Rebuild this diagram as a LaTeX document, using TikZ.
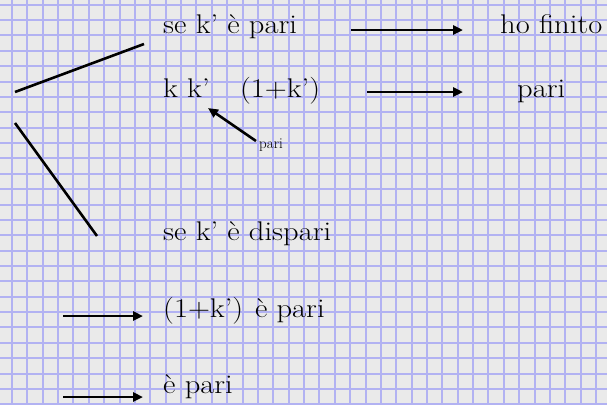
\documentclass[tikz,border=0pt]{standalone}
\usepackage{graphicx}
\usetikzlibrary{arrows.meta}
\definecolor{paper}{RGB}{234,234,234}
\definecolor{gridblue}{RGB}{178,178,242}
\newcommand{\widetext}[1]{\scalebox{1.13}[1]{#1}}
\begin{document}
\begin{tikzpicture}[x=1pt,y=-1pt,
  txt/.style={anchor=base west,inner sep=0pt,font=\fontsize{27}{31}\selectfont},
  smalltxt/.style={anchor=base west,inner sep=0pt,font=\fontsize{15}{17}\selectfont},
  stroke/.style={line width=2.6pt,black},
  arr/.style={stroke,-{Triangle[length=10pt,width=9pt]}},
  gridline/.style={gridblue,line width=2pt}]
\fill[paper] (0,0) rectangle (607,405);
\useasboundingbox (0,0) rectangle (607,405);
\foreach \i in {0,...,38} \draw[gridline] ({12+15.37*\i},0) -- ++(0,405);
\foreach \j in {0,...,26} \draw[gridline] (0,{4.7+15.37*\j}) -- ++(607,0);

\node[txt] (t1) at (163,33) {\widetext{se k’ è pari}};
\node[txt] (t2) at (500,33) {\widetext{ho finito}};
\node[txt] (t3) at (163,97) {\widetext{k k’\hspace{27pt}(1+k’)}};
\node[txt] (t4) at (517,97) {\widetext{pari}};
\node[smalltxt] (t5) at (259,148) {pari};
\node[txt] (t6) at (163,240) {\widetext{se k’ è dispari}};
\node[txt] (t7) at (163,317) {\widetext{(1+k’)\hspace{10.5pt}è pari}};
\node[txt] (t8) at (163,393) {\widetext{è pari}};

\coordinate (l1a) at (15,92);
\coordinate (l1b) at (144,44);
\coordinate (l2a) at (15,123);
\coordinate (l2b) at (97,236);
\coordinate (a1s) at (351,30);
\coordinate (a1e) at (463,30);
\coordinate (a2s) at (367,92);
\coordinate (a2e) at (463,92);
\coordinate (a3s) at (256,141);
\coordinate (a3e) at (208,108);
\coordinate (a4s) at (63,316);
\coordinate (a4e) at (143,316);
\coordinate (a5s) at (63,397);
\coordinate (a5e) at (143,397);

\draw[stroke] (l1a) -- (l1b);
\draw[stroke] (l2a) -- (l2b);
\draw[arr] (a1s) -- (a1e);
\draw[arr] (a2s) -- (a2e);
\draw[arr] (a3s) -- (a3e);
\draw[arr] (a4s) -- (a4e);
\draw[arr] (a5s) -- (a5e);
\end{tikzpicture}
\end{document}
